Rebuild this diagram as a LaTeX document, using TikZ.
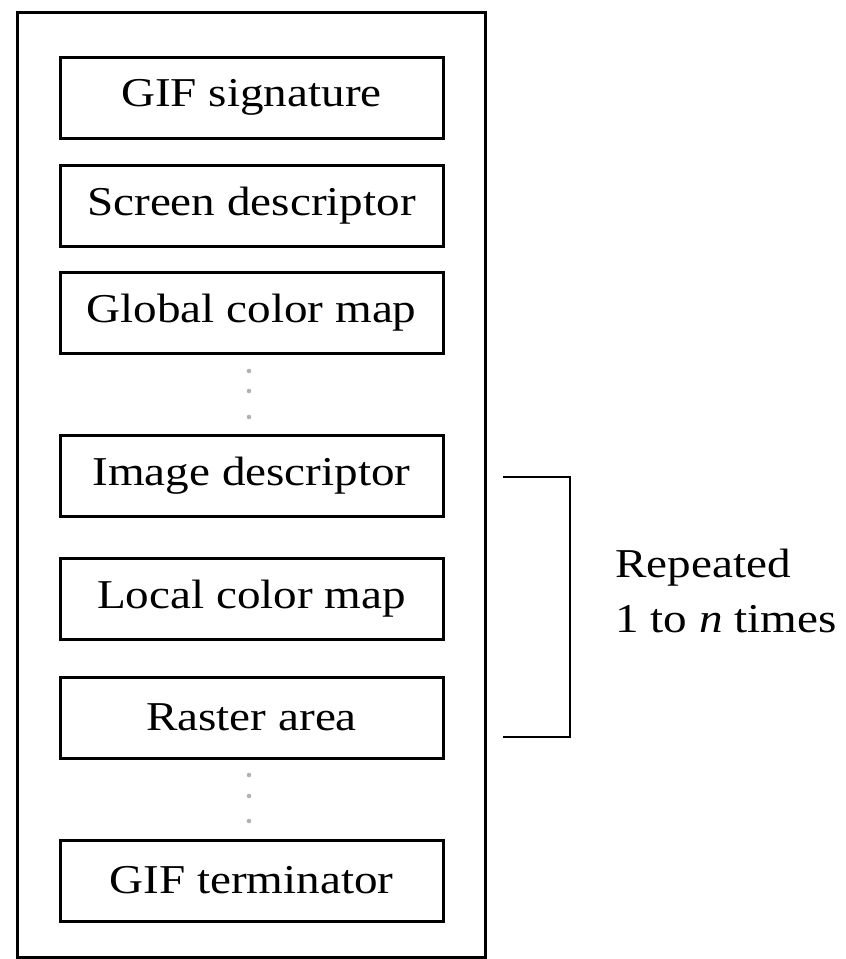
\documentclass[tikz,border=0pt]{standalone}
\usepackage{fontspec}
\setmainfont[FakeStretch=1.15]{Liberation Serif}
\begin{document}
\begin{tikzpicture}[x=1pt,y=-1pt,
    block/.style={draw,line width=3pt,minimum width=383pt,minimum height=81pt,inner sep=0pt,font=\fontsize{41}{50}\selectfont},
    lbl/.style={anchor=base west,inner sep=0pt,font=\fontsize{41}{50}\selectfont},
    gapdot/.style={fill=gray!60}]
    \useasboundingbox (0,0) rectangle (846,959);
    \draw[line width=3pt] (17,12) rectangle (485,957);
    \node[block] (sig) at (251.5,97.5) {GIF signature};
    \node[block] (scr) at (251.5,205.5) {Screen descriptor};
    \node[block] (gcm) at (251.5,313) {Global color map};
    \node[block] (img) at (251.5,476) {Image descriptor};
    \node[block] (lcm) at (251.5,599) {Local color map};
    \node[block] (ras) at (251.5,717.5) {Raster area};
    \node[block] (term) at (251.5,880.5) {GIF terminator};
    \foreach \y in {371,391,417,775,796,821}
      \fill[gapdot] (249,\y) circle (2.3pt);
    \coordinate (brtop) at (503,477);
    \coordinate (brbot) at (503,737);
    \draw[line width=2.5pt] (brtop) -- (570,477) -- (570,737) -- (brbot);
    \node[lbl] (rep) at (615,577) {Repeated};
    \node[lbl] (times) at (615,632) {1 to \textit{n} times};
\end{tikzpicture}
\end{document}
